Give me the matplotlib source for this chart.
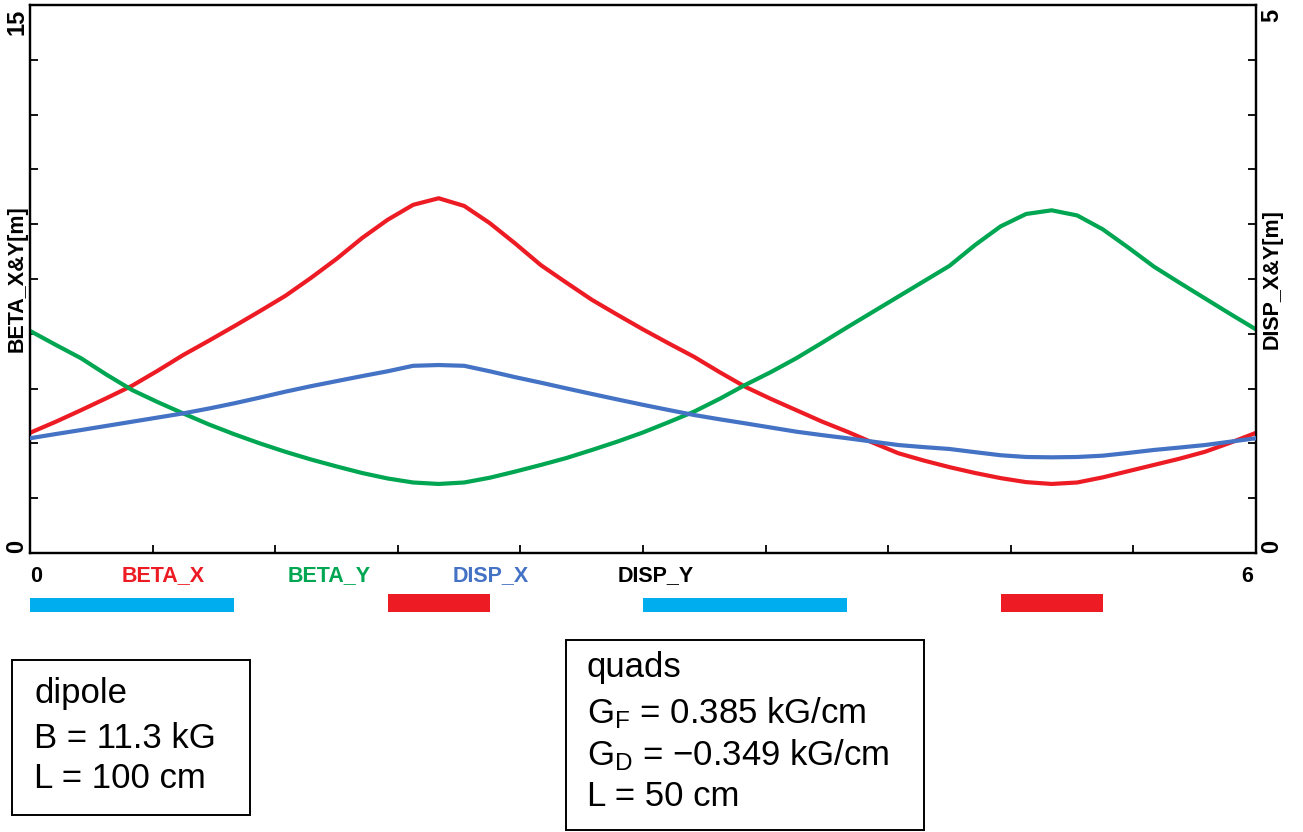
import matplotlib
matplotlib.use("Agg")
import matplotlib.pyplot as plt
import matplotlib.transforms as mtransforms
from matplotlib.patches import Rectangle

plt.rcParams['font.family'] = ['Liberation Sans', 'DejaVu Sans']
plt.rcParams['mathtext.fontset'] = 'custom'
plt.rcParams['mathtext.rm'] = 'Liberation Sans'
plt.rcParams['mathtext.it'] = 'Liberation Sans'

# position along the cell [m], read every 0.125 m
s = [0.0, 0.125, 0.25, 0.375, 0.5, 0.625, 0.75, 0.875,
     1.0, 1.125, 1.25, 1.375, 1.5, 1.625, 1.75, 1.875,
     2.0, 2.125, 2.25, 2.375, 2.5, 2.625, 2.75, 2.875,
     3.0, 3.125, 3.25, 3.375, 3.5, 3.625, 3.75, 3.875,
     4.0, 4.125, 4.25, 4.375, 4.5, 4.625, 4.75, 4.875,
     5.0, 5.125, 5.25, 5.375, 5.5, 5.625, 5.75, 5.875, 6.0]

beta_x = [3.29, 3.59, 3.91, 4.24, 4.58, 4.99, 5.42, 5.81,
          6.21, 6.62, 7.04, 7.53, 8.05, 8.62, 9.12, 9.53,
          9.71, 9.50, 9.03, 8.47, 7.88, 7.40, 6.93, 6.52,
          6.12, 5.74, 5.37, 4.95, 4.55, 4.22, 3.91, 3.60,
          3.32, 3.02, 2.73, 2.53, 2.35, 2.19, 2.05, 1.94,
          1.89, 1.93, 2.07, 2.24, 2.41, 2.58, 2.77, 3.02, 3.29]

beta_y = [6.08, 5.70, 5.33, 4.88, 4.46, 4.13, 3.82, 3.52,
          3.25, 3.00, 2.77, 2.56, 2.37, 2.19, 2.04, 1.93,
          1.89, 1.93, 2.06, 2.23, 2.41, 2.60, 2.82, 3.05,
          3.30, 3.58, 3.87, 4.22, 4.60, 4.95, 5.33, 5.75,
          6.18, 6.60, 7.02, 7.44, 7.86, 8.43, 8.94, 9.28,
          9.38, 9.24, 8.86, 8.36, 7.84, 7.40, 6.97, 6.54, 6.12]

disp_x = [1.047, 1.085, 1.122, 1.160, 1.198, 1.236, 1.274, 1.318,
          1.366, 1.418, 1.472, 1.522, 1.568, 1.614, 1.658, 1.708,
          1.715, 1.708, 1.658, 1.604, 1.554, 1.502, 1.451, 1.401,
          1.352, 1.305, 1.259, 1.220, 1.183, 1.145, 1.107, 1.076,
          1.047, 1.016, 0.985, 0.966, 0.949, 0.920, 0.892, 0.876,
          0.873, 0.876, 0.888, 0.913, 0.940, 0.962, 0.985, 1.016, 1.047]

# lattice elements: start, length, kind
elem_start = [0.0, 1.75, 3.0, 4.75]
elem_len = [1.0, 0.5, 1.0, 0.5]
elem_kind = ['dipole', 'quad', 'dipole', 'quad']

curve_names = ['BETA_X', 'BETA_Y', 'DISP_X', 'DISP_Y']
name_pos = [0.653, 1.463, 2.257, 3.06]

RED = '#ED1C24'
GREEN = '#00A651'
BLUE = '#4472C4'
CYAN = '#00AEEF'
name_colors = [RED, GREEN, BLUE, 'black']

fig = plt.figure(figsize=(13.03, 8.32), dpi=100)
W, H = 1303.0, 832.0
x0, x1 = 30, 1256
y_top, y_bot = 5, 553
ax = fig.add_axes([x0 / W, 1 - y_bot / H, (x1 - x0) / W, (y_bot - y_top) / H])
ax2 = ax.twinx()

ax.plot(s, beta_x, color=RED, lw=3.0, zorder=3, solid_joinstyle='round')
ax.plot(s, beta_y, color=GREEN, lw=3.0, zorder=3, solid_joinstyle='round')
ax2.plot(s, disp_x, color=BLUE, lw=3.0, zorder=3, solid_joinstyle='round')

ax.set_xlim(0, 6)
ax.set_ylim(0, 15)
ax2.set_ylim(0, 5)

ax.set_xticks([0.6 * i for i in range(1, 10)])
ax.set_xticklabels([])
ax.set_yticks([1.5 * i for i in range(1, 10)])
ax.set_yticklabels([])
ax2.set_yticks([0.5 * i for i in range(1, 10)])
ax2.set_yticklabels([])
ax.tick_params(axis='both', direction='in', length=6, width=1.3)
ax2.tick_params(axis='y', direction='in', length=6, width=1.3)
for a in (ax, ax2):
    for sp in a.spines.values():
        sp.set_linewidth(1.6)

bold = dict(fontweight='bold', fontsize=15.5)
endlab = dict(fontweight='bold', fontsize=17, rotation=90, ha='center')
# end tick labels, rotated like the original
ax.text(-0.0108, 0.993, '15', transform=ax.transAxes, va='top', **endlab)
ax.text(-0.0108, 0.0, '0', transform=ax.transAxes, va='bottom', **endlab)
ax.text(1.0125, 0.993, '5', transform=ax.transAxes, va='top', **endlab)
ax.text(1.0125, 0.0, '0', transform=ax.transAxes, va='bottom', **endlab)

ax.text(-0.0105, 0.5, 'BETA_X&Y[m]', transform=ax.transAxes, rotation=90, ha='center', va='center', **bold)
ax.text(1.0128, 0.5, 'DISP_X&Y[m]', transform=ax.transAxes, rotation=90, ha='center', va='center', **bold)

# labels under the plot
lab = mtransforms.blended_transform_factory(ax.transData, ax.transAxes)
ly = -(576 - y_bot) / (y_bot - y_top)
ax.text(0.0, ly, '0', transform=lab, ha='left', va='center', **bold)
ax.text(5.985, ly, '6', transform=lab, ha='right', va='center', **bold)
for name, xp, c in zip(curve_names, name_pos, name_colors):
    ax.text(xp, ly, name, transform=lab, ha='center', va='center', color=c, **bold)

# lattice row
lat = fig.add_axes([x0 / W, 1 - 615 / H, (x1 - x0) / W, 25 / H])
lat.set_xlim(0, 6)
lat.set_ylim(0, 25)
lat.axis('off')
for st, ln, kind in zip(elem_start, elem_len, elem_kind):
    if kind == 'dipole':
        lat.add_patch(Rectangle((st, 3), ln, 14, color=CYAN, lw=0))
    else:
        lat.add_patch(Rectangle((st, 3), ln, 18, color=RED, lw=0))

# info boxes
def info_box(left, top, right, bottom, lines, ys, xt):
    fig.patches.append(Rectangle((left / W, 1 - bottom / H), (right - left) / W, (bottom - top) / H,
                                 transform=fig.transFigure, fill=False, ec='black', lw=1.4))
    for t, yy in zip(lines, ys):
        fig.text(xt / W, 1 - yy / H, t, fontsize=25, ha='left', va='center')

info_box(12, 660, 250, 815, ['dipole', 'B = 11.3 kG', 'L = 100 cm'], [694, 738, 779], 34)
info_box(566, 640, 924, 830,
         ['quads', r'G$_{\mathrm{F}}$ = 0.385 kG/cm', 'G$_{\\mathrm{D}}$ = \u22120.349 kG/cm', 'L = 50 cm'],
         [668, 713, 755, 797], 587)

fig.savefig('out.png', dpi=100)
